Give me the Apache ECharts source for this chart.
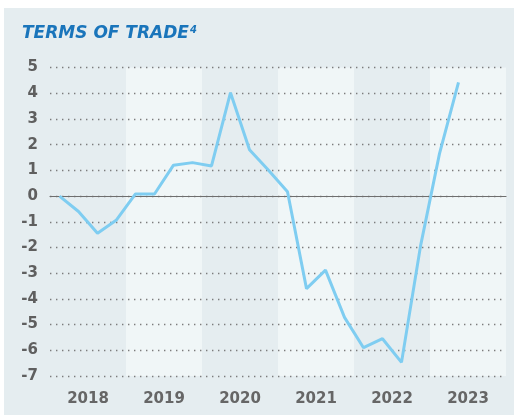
<!DOCTYPE html>
<html>
<head>
<meta charset="utf-8">
<script src="https://cdn.jsdelivr.net/npm/echarts@6/dist/echarts.min.js"></script>
<style>
  html, body { margin: 0; padding: 0; background: #ffffff; }
  #tradeChart { width: 514px; height: 415px; }
</style>
</head>
<body>
<div id="tradeChart"></div>
<script>
// years shown on the axis
var years = ['2018', '2019', '2020', '2021', '2022', '2023'];
// quarterly categories, 4 per year
var quarters = [];
years.forEach(function (y) {
    ['Q1', 'Q2', 'Q3', 'Q4'].forEach(function (q) { quarters.push(y + q); });
});
// terms of trade, quarterly values
var tradeValues = [
    0, -0.6, -1.45, -0.93,
    0.08, 0.08, 1.2, 1.3,
    1.17, 4.02, 1.8, 1.0,
    0.17, -3.6, -2.88, -4.72,
    -5.9, -5.55, -6.47, -1.95,
    1.65, 4.42
];
var yMin = -7, yMax = 5, yStep = 1;

var myChart = echarts.init(document.getElementById('tradeChart'));
var labelFont = 'DejaVu Sans';

var option = {
    animation: false,
    backgroundColor: '#ffffff',
    graphic: [{
        type: 'rect',
        z: -10,
        shape: { x: 4, y: 8, width: 510, height: 407 },
        style: { fill: '#e5edf0' }
    }],
    title: {
        left: 17,
        top: 20,
        text: '{a|TERMS OF TRADE}{b|4}',
        textStyle: {
            rich: {
                a: { fontFamily: labelFont, fontStyle: 'italic', fontWeight: 'bold', fontSize: 17, color: '#1a75bb' },
                b: { fontFamily: labelFont, fontStyle: 'italic', fontWeight: 'bold', fontSize: 10, color: '#1a75bb', verticalAlign: 'top', padding: [0, 0, 8, 1] }
            }
        }
    },
    grid: { left: 50, right: 8, top: 67.5, bottom: 39 },
    xAxis: [{
        type: 'category',
        data: quarters,
        boundaryGap: true,
        z: 3,
        axisTick: { show: false },
        axisLabel: { show: false },
        axisLine: { show: true, onZero: true, lineStyle: { color: '#6e6e6e', width: 1.2 } },
        splitLine: { show: false }
    }, {
        type: 'category',
        data: years,
        position: 'bottom',
        boundaryGap: true,
        z: 0,
        axisTick: { show: false },
        axisLine: { show: false },
        axisLabel: {
            margin: 16,
            fontFamily: labelFont,
            fontWeight: 'bold',
            fontSize: 15,
            color: '#666666'
        },
        splitArea: { show: true, areaStyle: { color: ['#e5edf0', '#f0f6f7'] } }
    }],
    yAxis: {
        type: 'value',
        min: yMin,
        max: yMax,
        interval: yStep,
        z: 2,
        axisLine: { show: false },
        axisTick: { show: false },
        axisLabel: {
            margin: 12,
            fontFamily: labelFont,
            fontWeight: 'bold',
            fontSize: 15,
            color: '#5f5f5f'
        },
        splitLine: { lineStyle: { color: '#7c7c7c', width: 1.4, type: [1.4, 4.6] } }
    },
    series: [{
        type: 'line',
        xAxisIndex: 0,
        data: tradeValues,
        showSymbol: false,
        symbol: 'none',
        z: 5,
        lineStyle: { color: '#7fcdf1', width: 3 }
    }]
};

myChart.setOption(option);
</script>
</body>
</html>
